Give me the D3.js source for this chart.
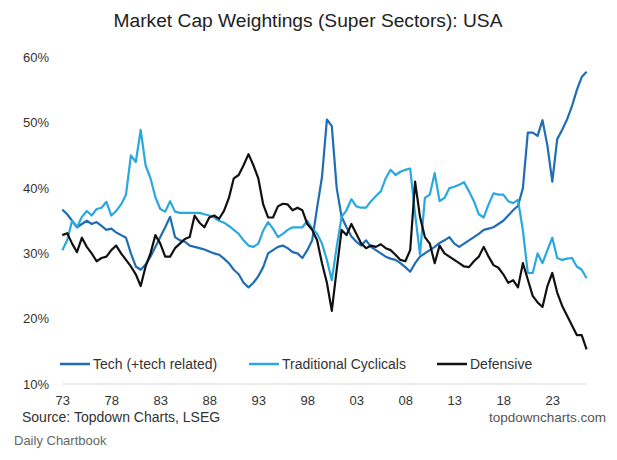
<!DOCTYPE html>
<html><head><meta charset="utf-8">
<script src="https://cdn.jsdelivr.net/npm/d3@7"></script>
<style>body{margin:0;background:#fff;} svg{display:block;font-family:"Liberation Sans",Arial,sans-serif;}</style>
</head><body>
<svg id="c" width="617" height="460"></svg>
<script>
const years = d3.range(1973, 2026.51, 0.5);
const tech = [36.7,36.0,35.0,34.0,34.5,35.0,34.5,34.8,34.2,33.6,33.8,33.2,32.8,32.4,30.0,28.0,27.5,28.3,29.5,31.0,32.5,34.0,35.6,32.5,32.0,31.8,31.2,31.0,30.8,30.6,30.3,30.0,29.8,29.2,28.5,27.5,26.8,25.5,24.8,25.5,26.5,27.9,30.0,30.5,31.0,31.2,30.8,30.2,30.0,29.3,30.5,32.0,37.0,41.7,50.5,49.5,40.0,35.6,34.0,32.6,31.8,31.2,32.0,31.0,30.5,30.0,29.5,29.2,29.0,28.5,27.9,27.2,28.5,29.5,30.0,30.5,31.0,31.6,32.0,32.5,31.5,31.0,31.5,32.0,32.5,33.0,33.6,33.8,34.0,34.5,35.0,35.8,36.6,37.3,40.0,48.5,48.5,48.0,50.4,46.5,41.0,47.5,48.9,50.5,52.5,55.0,57.0,57.8];
const cyclicals = [30.5,32.0,35.0,34.0,35.6,36.5,35.8,36.8,37.0,37.9,35.8,36.5,37.5,39.0,45.0,44.0,48.9,43.5,41.5,38.6,36.8,36.4,38.0,36.4,36.2,36.2,36.2,36.2,36.2,36.0,35.8,35.5,35.0,34.7,34.2,33.6,33.0,32.0,31.2,31.0,31.5,33.5,34.8,33.8,32.5,33.0,33.6,34.0,34.0,34.0,35.0,33.8,33.0,31.5,29.0,25.9,31.0,35.6,36.6,38.3,37.2,37.0,37.0,38.0,38.8,39.5,41.5,42.8,42.0,42.5,42.8,43.0,36.0,29.8,38.5,39.0,42.3,38.0,38.5,40.0,40.2,40.5,40.9,39.5,38.0,36.0,35.5,37.5,39.2,39.0,39.0,38.0,37.7,38.2,33.5,27.0,27.0,30.0,28.5,30.5,32.4,29.3,29.0,29.2,29.3,28.0,27.5,26.2];
const defensive = [32.8,33.1,31.5,30.2,32.4,31.0,30.0,28.8,29.3,29.5,30.5,31.2,30.0,29.0,28.0,26.8,25.0,28.0,30.0,32.8,31.5,29.5,29.5,30.8,31.5,32.2,32.5,35.8,34.7,34.0,35.5,35.8,35.3,36.5,38.5,41.5,42.0,43.5,45.2,43.5,41.5,37.5,35.5,35.5,37.2,37.6,37.5,36.6,37.0,36.6,34.5,33.6,32.0,28.5,25.5,21.2,27.5,33.6,32.8,34.5,33.0,31.5,30.8,31.2,31.0,31.4,30.8,30.5,29.8,29.0,28.8,30.5,41.0,35.6,32.5,31.5,28.5,31.2,30.0,29.5,29.0,28.5,28.0,27.9,28.8,29.5,31.0,29.5,28.2,27.8,26.8,25.5,25.9,24.8,28.5,26.0,23.5,22.5,21.8,25.0,27.0,24.0,22.0,20.5,19.0,17.5,17.5,15.3];
const seriesNames = ["Tech (+tech related)", "Traditional Cyclicals", "Defensive"];
const seriesColors = ["#1f6db3", "#29a8e0", "#111111"];
const yTicks = [10,20,30,40,50,60];
const xTicks = [1973,1978,1983,1988,1993,1998,2003,2008,2013,2018,2023];

const svg = d3.select("#c");
const x = d3.scaleLinear().domain([1973, 2026.5]).range([62.3, 586.6]);
const y = d3.scaleLinear().domain([10, 60]).range([384, 57.5]);

svg.append("text").attr("x", 308).attr("y", 27).attr("text-anchor","middle")
  .attr("font-size", 19.2).attr("fill", "#222").text("Market Cap Weightings (Super Sectors): USA");

const ya = svg.append("g").attr("transform","translate(49,0)")
  .call(d3.axisLeft(y).tickValues(yTicks).tickSize(0).tickPadding(0).tickFormat(d => d + "%"));
ya.select(".domain").remove();
ya.selectAll("text").attr("font-size", 13).attr("fill","#333").attr("font-family","Liberation Sans, Arial, sans-serif");

svg.append("line").attr("x1", x(1973)).attr("x2", x(2026.5)).attr("y1", y(10)).attr("y2", y(10))
  .attr("stroke", "#d9d9d9").attr("stroke-width", 1);

const xa = svg.append("g").attr("transform", `translate(0,${y(10)})`)
  .call(d3.axisBottom(x).tickValues(xTicks).tickSize(0).tickPadding(12).tickFormat(d => String(d).slice(2)));
xa.select(".domain").remove();
xa.selectAll("text").attr("font-size", 13).attr("fill","#333").attr("font-family","Liberation Sans, Arial, sans-serif");

const data = [tech, cyclicals, defensive];
const line = d3.line().x((d,i) => x(years[i])).y(d => y(d));
data.forEach((s, k) => {
  svg.append("path").datum(s).attr("d", line).attr("fill","none")
    .attr("stroke", seriesColors[k]).attr("stroke-width", 2.2).attr("stroke-linejoin","round");
});

const legX = [60, 249, 437];
seriesNames.forEach((n, k) => {
  svg.append("line").attr("x1", legX[k]).attr("x2", legX[k] + 30).attr("y1", 364).attr("y2", 364)
    .attr("stroke", seriesColors[k]).attr("stroke-width", 2.5);
  svg.append("text").attr("x", legX[k] + 33).attr("y", 369).attr("font-size", 14).attr("fill","#333").text(n);
});

svg.append("text").attr("x", 22).attr("y", 422).attr("font-size", 14).attr("fill","#333").text("Source: Topdown Charts, LSEG");
svg.append("text").attr("x", 606).attr("y", 422).attr("text-anchor","end").attr("font-size", 13.5).attr("fill","#555").text("topdowncharts.com");
svg.append("text").attr("x", 14).attr("y", 445).attr("font-size", 13).attr("fill","#666").text("Daily Chartbook");
</script>
</body></html>
